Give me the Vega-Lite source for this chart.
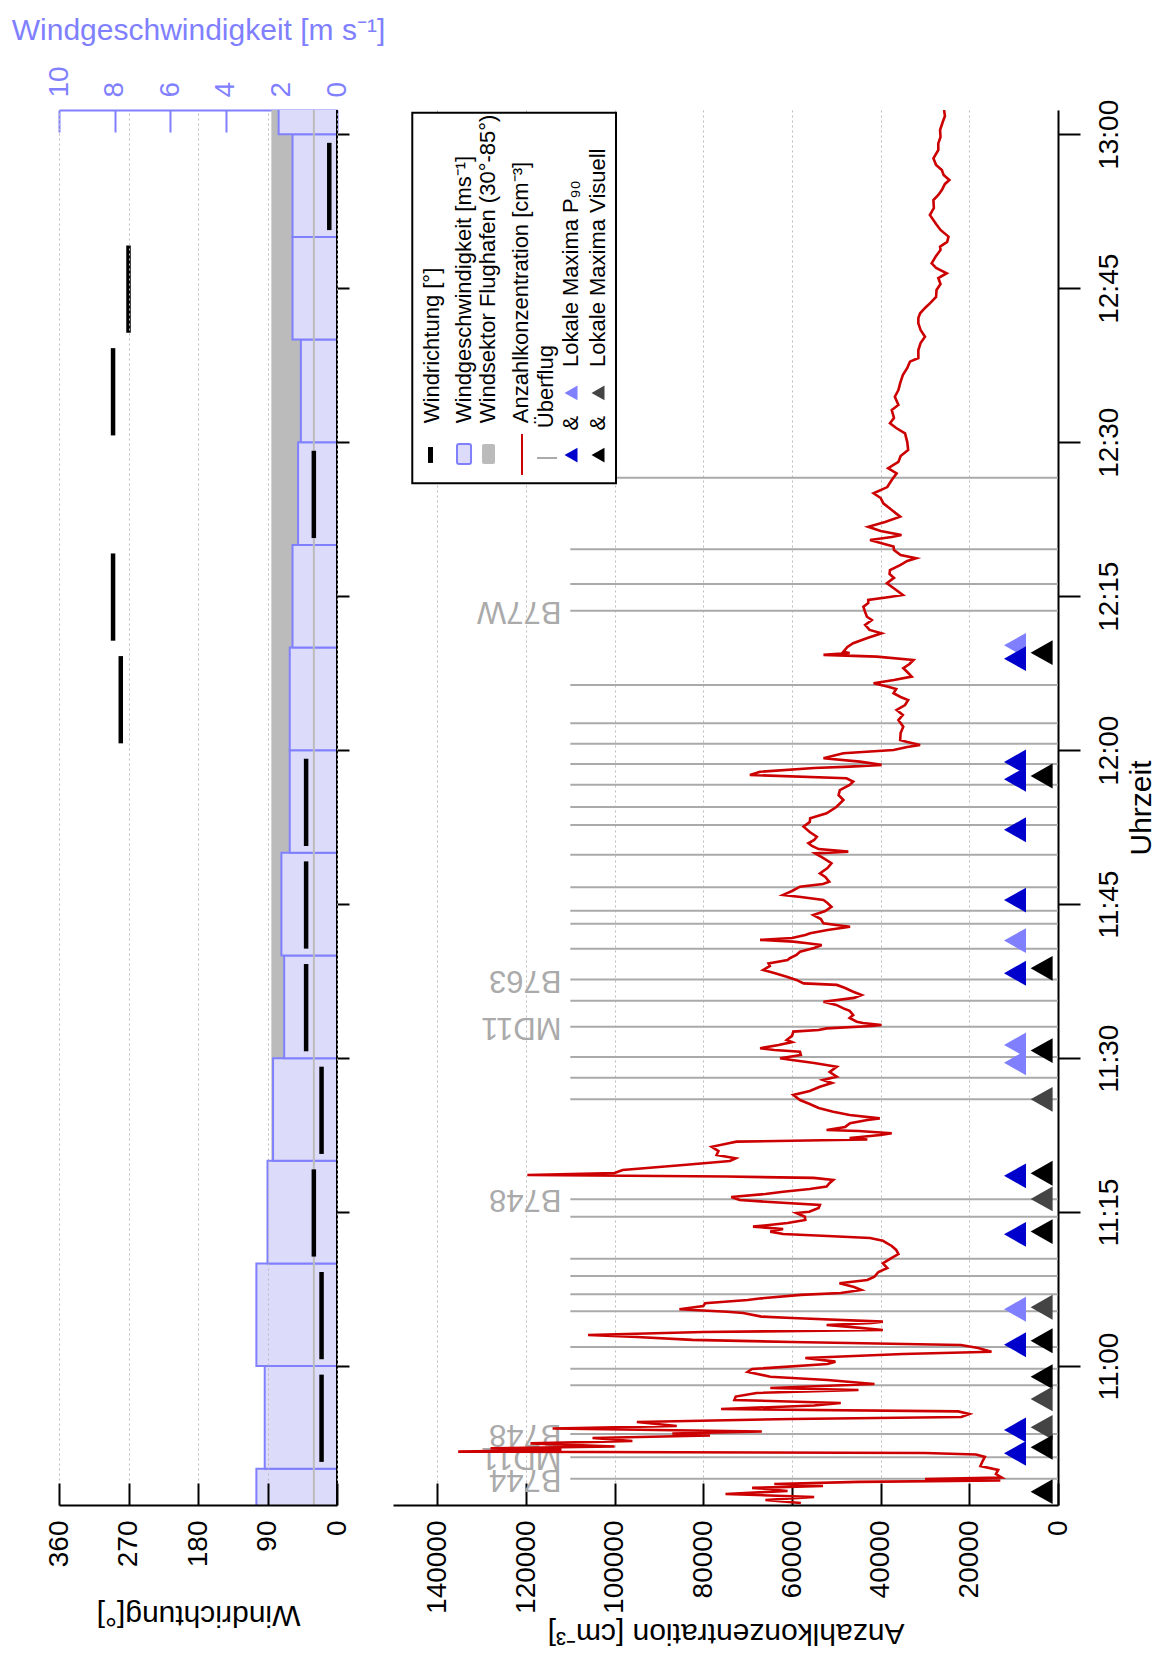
{
  "$schema": "https://vega.github.io/schema/vega-lite/v6.json",
  "width": 999,
  "height": 1395,
  "autosize": {"type": "none"},
  "padding": {"left": 59, "top": 110, "right": 98, "bottom": 159},
  "background": "white",
  "config": {
    "font": "Liberation Sans",
    "view": {"stroke": null},
    "axis": {
      "labelFont": "Liberation Sans", "titleFont": "Liberation Sans",
      "labelFlush": false, "labelOverlap": false,
      "titleFontWeight": "normal", "labelFontSize": 28, "titleFontSize": 30,
      "labelColor": "black", "titleColor": "black",
      "domainColor": "black", "tickColor": "black", "domainWidth": 2, "tickWidth": 2,
      "gridColor": "#bbbbbb", "gridDash": [2, 3], "gridWidth": 1, "grid": false
    },
    "text": {"font": "Liberation Sans"}
  },
  "datasets": {
    "wind": [
      {"t0": "10:40:00", "t1": "10:50:00", "v": 2.9},
      {"t0": "10:50:00", "t1": "11:00:00", "v": 2.6},
      {"t0": "11:00:00", "t1": "11:10:00", "v": 2.9},
      {"t0": "11:10:00", "t1": "11:20:00", "v": 2.5},
      {"t0": "11:20:00", "t1": "11:30:00", "v": 2.3},
      {"t0": "11:30:00", "t1": "11:40:00", "v": 1.9},
      {"t0": "11:40:00", "t1": "11:50:00", "v": 2.0},
      {"t0": "11:50:00", "t1": "12:00:00", "v": 1.7},
      {"t0": "12:00:00", "t1": "12:10:00", "v": 1.7},
      {"t0": "12:10:00", "t1": "12:20:00", "v": 1.6},
      {"t0": "12:20:00", "t1": "12:30:00", "v": 1.4},
      {"t0": "12:30:00", "t1": "12:40:00", "v": 1.3},
      {"t0": "12:40:00", "t1": "12:50:00", "v": 1.6},
      {"t0": "12:50:00", "t1": "13:00:00", "v": 1.6},
      {"t0": "13:00:00", "t1": "13:10:00", "v": 2.1}
    ],
    "direction": [
      {"t0": "10:50:40", "t1": "10:59:10", "d": 20},
      {"t0": "11:00:40", "t1": "11:09:10", "d": 20},
      {"t0": "11:10:40", "t1": "11:19:10", "d": 30},
      {"t0": "11:20:40", "t1": "11:29:10", "d": 20},
      {"t0": "11:30:40", "t1": "11:39:10", "d": 40},
      {"t0": "11:40:40", "t1": "11:49:10", "d": 40},
      {"t0": "11:50:40", "t1": "11:59:10", "d": 40},
      {"t0": "12:00:40", "t1": "12:09:10", "d": 280},
      {"t0": "12:10:40", "t1": "12:19:10", "d": 290},
      {"t0": "12:20:40", "t1": "12:29:10", "d": 30},
      {"t0": "12:30:40", "t1": "12:39:10", "d": 290},
      {"t0": "12:40:40", "t1": "12:49:10", "d": 270},
      {"t0": "12:50:40", "t1": "12:59:10", "d": 10}
    ],
    "flights": [
      {"t": "10:49:02", "ac": "B744"}, {"t": "10:51:07", "ac": "MD11"}, {"t": "10:53:23", "ac": "B748"},
      {"t": "10:58:08", "ac": ""}, {"t": "10:59:45", "ac": ""}, {"t": "11:01:52", "ac": ""}, {"t": "11:05:20", "ac": ""},
      {"t": "11:07:00", "ac": ""}, {"t": "11:08:47", "ac": ""}, {"t": "11:10:28", "ac": ""}, {"t": "11:14:33", "ac": ""},
      {"t": "11:16:15", "ac": "B748"}, {"t": "11:25:59", "ac": ""}, {"t": "11:28:06", "ac": ""}, {"t": "11:30:07", "ac": ""},
      {"t": "11:33:04", "ac": "MD11"}, {"t": "11:35:36", "ac": ""}, {"t": "11:37:39", "ac": "B763"}, {"t": "11:40:40", "ac": ""},
      {"t": "11:43:06", "ac": ""}, {"t": "11:44:22", "ac": ""}, {"t": "11:46:39", "ac": ""}, {"t": "11:49:49", "ac": ""},
      {"t": "11:52:43", "ac": ""}, {"t": "11:54:28", "ac": ""}, {"t": "11:56:38", "ac": ""}, {"t": "11:58:39", "ac": ""},
      {"t": "12:00:38", "ac": ""}, {"t": "12:02:37", "ac": ""}, {"t": "12:06:21", "ac": ""}, {"t": "12:13:35", "ac": "B77W"},
      {"t": "12:16:12", "ac": ""}, {"t": "12:19:34", "ac": ""}, {"t": "12:26:33", "ac": ""}
    ],
    "maxima": [
      {"t": "12:10:13", "method": "P90", "kind": "P90 B"},
      {"t": "12:08:55", "method": "P90", "kind": "P90 A"},
      {"t": "11:58:51", "method": "P90", "kind": "P90 A"},
      {"t": "11:57:10", "method": "P90", "kind": "P90 A"},
      {"t": "11:52:15", "method": "P90", "kind": "P90 A"},
      {"t": "11:45:24", "method": "P90", "kind": "P90 A"},
      {"t": "11:41:27", "method": "P90", "kind": "P90 B"},
      {"t": "11:38:16", "method": "P90", "kind": "P90 A"},
      {"t": "11:31:17", "method": "P90", "kind": "P90 B"},
      {"t": "11:29:33", "method": "P90", "kind": "P90 B"},
      {"t": "11:18:32", "method": "P90", "kind": "P90 A"},
      {"t": "11:12:50", "method": "P90", "kind": "P90 A"},
      {"t": "11:05:32", "method": "P90", "kind": "P90 B"},
      {"t": "11:02:05", "method": "P90", "kind": "P90 A"},
      {"t": "10:53:47", "method": "P90", "kind": "P90 A"},
      {"t": "10:51:30", "method": "P90", "kind": "P90 A"},
      {"t": "12:09:30", "method": "Visuell", "kind": "Visuell A"},
      {"t": "11:57:29", "method": "Visuell", "kind": "Visuell A"},
      {"t": "11:38:45", "method": "Visuell", "kind": "Visuell A"},
      {"t": "11:30:44", "method": "Visuell", "kind": "Visuell A"},
      {"t": "11:25:59", "method": "Visuell", "kind": "Visuell B"},
      {"t": "11:18:47", "method": "Visuell", "kind": "Visuell A"},
      {"t": "11:16:17", "method": "Visuell", "kind": "Visuell B"},
      {"t": "11:13:06", "method": "Visuell", "kind": "Visuell A"},
      {"t": "11:05:44", "method": "Visuell", "kind": "Visuell B"},
      {"t": "11:02:28", "method": "Visuell", "kind": "Visuell A"},
      {"t": "10:58:58", "method": "Visuell", "kind": "Visuell A"},
      {"t": "10:56:48", "method": "Visuell", "kind": "Visuell B"},
      {"t": "10:54:02", "method": "Visuell", "kind": "Visuell B"},
      {"t": "10:52:05", "method": "Visuell", "kind": "Visuell A"},
      {"t": "10:47:46", "method": "Visuell", "kind": "Visuell A"}
    ],
    "conc": [
      {"t":"10:46:40","c":58000},{"t":"10:46:57","c":66000},{"t":"10:47:15","c":55000},{"t":"10:47:32","c":75000},
      {"t":"10:47:50","c":61000},{"t":"10:48:08","c":69000},{"t":"10:48:19","c":53000},{"t":"10:48:31","c":64000},
      {"t":"10:48:43","c":45000},{"t":"10:48:51","c":13000},{"t":"10:49:00","c":30000},{"t":"10:49:09","c":12700},
      {"t":"10:49:29","c":14000},{"t":"10:49:53","c":13500},{"t":"10:50:16","c":17500},{"t":"10:50:45","c":17000},
      {"t":"10:51:09","c":16500},{"t":"10:51:23","c":18500},{"t":"10:51:32","c":30000},{"t":"10:51:40","c":135300},
      {"t":"10:51:50","c":112000},{"t":"10:52:00","c":128000},{"t":"10:52:10","c":100000},{"t":"10:52:28","c":119000},
      {"t":"10:52:42","c":96000},{"t":"10:53:00","c":105000},{"t":"10:53:14","c":78500},{"t":"10:53:26","c":87000},
      {"t":"10:53:38","c":66800},{"t":"10:53:55","c":114000},{"t":"10:54:10","c":86000},{"t":"10:54:33","c":95000},
      {"t":"10:54:51","c":60000},{"t":"10:55:02","c":21800},{"t":"10:55:20","c":20000},{"t":"10:55:35","c":22500},
      {"t":"10:55:49","c":76000},{"t":"10:56:10","c":55000},{"t":"10:56:24","c":49000},{"t":"10:56:42","c":73000},
      {"t":"10:57:02","c":72700},{"t":"10:57:23","c":68000},{"t":"10:57:40","c":45000},{"t":"10:57:52","c":64900},
      {"t":"10:58:15","c":41400},{"t":"10:58:39","c":52000},{"t":"10:58:58","c":64900},{"t":"10:59:26","c":70000},
      {"t":"10:59:43","c":69000},{"t":"11:00:12","c":52000},{"t":"11:00:26","c":50200},{"t":"11:00:47","c":57000},
      {"t":"11:01:11","c":35000},{"t":"11:01:24","c":15000},{"t":"11:01:46","c":18000},{"t":"11:02:03","c":21900},
      {"t":"11:02:21","c":60000},{"t":"11:02:33","c":82500},{"t":"11:02:50","c":95000},{"t":"11:03:02","c":106000},
      {"t":"11:03:19","c":80000},{"t":"11:03:31","c":39500},{"t":"11:03:49","c":47000},{"t":"11:04:00","c":52200},
      {"t":"11:04:12","c":42000},{"t":"11:04:20","c":39500},{"t":"11:04:41","c":60000},{"t":"11:04:49","c":66900},
      {"t":"11:05:10","c":71000},{"t":"11:05:18","c":74700},{"t":"11:05:32","c":85400},{"t":"11:05:51","c":80000},
      {"t":"11:06:07","c":79600},{"t":"11:06:26","c":70000},{"t":"11:06:36","c":66900},{"t":"11:06:56","c":58000},
      {"t":"11:07:07","c":49000},{"t":"11:07:25","c":44400},{"t":"11:07:42","c":46000},{"t":"11:08:04","c":49300},
      {"t":"11:08:23","c":43000},{"t":"11:08:43","c":41400},{"t":"11:09:10","c":40500},{"t":"11:09:33","c":38500},
      {"t":"11:10:01","c":39500},{"t":"11:10:32","c":37500},{"t":"11:10:55","c":36000},{"t":"11:11:19","c":36500},
      {"t":"11:11:42","c":37500},{"t":"11:12:05","c":39000},{"t":"11:12:13","c":39500},{"t":"11:12:29","c":42400},
      {"t":"11:12:40","c":52000},{"t":"11:12:52","c":62000},{"t":"11:13:06","c":64900},{"t":"11:13:21","c":62000},
      {"t":"11:13:35","c":68800},{"t":"11:13:56","c":61000},{"t":"11:14:14","c":57000},{"t":"11:14:33","c":57100},
      {"t":"11:14:55","c":59000},{"t":"11:15:02","c":56100},{"t":"11:15:24","c":54000},{"t":"11:15:42","c":53700},
      {"t":"11:15:59","c":65000},{"t":"11:16:11","c":71800},{"t":"11:16:28","c":73700},{"t":"11:16:46","c":66000},
      {"t":"11:16:59","c":62000},{"t":"11:17:15","c":56000},{"t":"11:17:29","c":52200},{"t":"11:17:50","c":51500},
      {"t":"11:18:08","c":50700},{"t":"11:18:20","c":55100},{"t":"11:18:28","c":74700},{"t":"11:18:37","c":119700},
      {"t":"11:18:49","c":100000},{"t":"11:19:06","c":98200},{"t":"11:19:24","c":90000},{"t":"11:19:35","c":84500},
      {"t":"11:19:59","c":74000},{"t":"11:20:15","c":72700},{"t":"11:20:34","c":77000},{"t":"11:20:57","c":76600},
      {"t":"11:21:22","c":78100},{"t":"11:21:44","c":74000},{"t":"11:21:52","c":72500},{"t":"11:22:04","c":43000},
      {"t":"11:22:13","c":47000},{"t":"11:22:31","c":40000},{"t":"11:22:41","c":37500},{"t":"11:22:54","c":45000},
      {"t":"11:23:00","c":52200},{"t":"11:23:18","c":48000},{"t":"11:23:39","c":46900},{"t":"11:23:58","c":43000},
      {"t":"11:24:08","c":40200},{"t":"11:24:28","c":47000},{"t":"11:24:47","c":50700},{"t":"11:25:09","c":54000},
      {"t":"11:25:32","c":56000},{"t":"11:25:55","c":58200},{"t":"11:26:25","c":59700},{"t":"11:26:48","c":56000},
      {"t":"11:27:13","c":53700},{"t":"11:27:35","c":51000},{"t":"11:27:52","c":53000},{"t":"11:28:12","c":49900},
      {"t":"11:28:39","c":51500},{"t":"11:29:10","c":49900},{"t":"11:29:32","c":55000},{"t":"11:29:49","c":60000},
      {"t":"11:29:59","c":62700},{"t":"11:30:18","c":58000},{"t":"11:30:38","c":58200},{"t":"11:30:48","c":64000},
      {"t":"11:30:58","c":67200},{"t":"11:31:17","c":63000},{"t":"11:31:34","c":60000},{"t":"11:31:46","c":61200},
      {"t":"11:32:10","c":60000},{"t":"11:32:35","c":59700},{"t":"11:32:44","c":54000},{"t":"11:32:54","c":52200},
      {"t":"11:33:08","c":42000},{"t":"11:33:14","c":39800},{"t":"11:33:25","c":44000},{"t":"11:33:33","c":45400},
      {"t":"11:33:55","c":47000},{"t":"11:34:12","c":46200},{"t":"11:34:36","c":47000},{"t":"11:34:51","c":48400},
      {"t":"11:35:11","c":50000},{"t":"11:35:30","c":52900},{"t":"11:35:52","c":46000},{"t":"11:36:09","c":44300},
      {"t":"11:36:28","c":46200},{"t":"11:36:50","c":48000},{"t":"11:37:08","c":49900},{"t":"11:37:17","c":57400},
      {"t":"11:37:37","c":59000},{"t":"11:37:56","c":61200},{"t":"11:38:18","c":64000},{"t":"11:38:35","c":66500},
      {"t":"11:38:59","c":65000},{"t":"11:39:14","c":65300},{"t":"11:39:34","c":61000},{"t":"11:39:44","c":60500},
      {"t":"11:40:03","c":59000},{"t":"11:40:22","c":58200},{"t":"11:40:44","c":55000},{"t":"11:41:01","c":53300},
      {"t":"11:41:13","c":57000},{"t":"11:41:21","c":59700},{"t":"11:41:31","c":67200},{"t":"11:41:42","c":60000},
      {"t":"11:42:00","c":57000},{"t":"11:42:10","c":55900},{"t":"11:42:29","c":52000},{"t":"11:42:48","c":46900},
      {"t":"11:42:58","c":50000},{"t":"11:43:08","c":52900},{"t":"11:43:33","c":53500},{"t":"11:43:57","c":55200},
      {"t":"11:44:20","c":52500},{"t":"11:44:45","c":51100},{"t":"11:45:07","c":52000},{"t":"11:45:24","c":52900},
      {"t":"11:45:42","c":58000},{"t":"11:45:54","c":62000},{"t":"11:46:17","c":60000},{"t":"11:46:42","c":58200},
      {"t":"11:46:58","c":53000},{"t":"11:47:11","c":51600},{"t":"11:47:39","c":52500},{"t":"11:48:00","c":53700},
      {"t":"11:48:31","c":52000},{"t":"11:48:59","c":51100},{"t":"11:49:30","c":53000},{"t":"11:49:57","c":54800},
      {"t":"11:50:07","c":47300},{"t":"11:50:22","c":54000},{"t":"11:50:40","c":55500},{"t":"11:50:56","c":56300},
      {"t":"11:51:15","c":55000},{"t":"11:51:34","c":54400},{"t":"11:52:02","c":56000},{"t":"11:52:33","c":57400},
      {"t":"11:53:00","c":56000},{"t":"11:53:22","c":55900},{"t":"11:53:51","c":52200},{"t":"11:54:28","c":50000},
      {"t":"11:55:09","c":48400},{"t":"11:55:38","c":49500},{"t":"11:56:07","c":49200},{"t":"11:56:37","c":47000},
      {"t":"11:56:56","c":46200},{"t":"11:57:16","c":47700},{"t":"11:57:35","c":69500},{"t":"11:57:54","c":67200},
      {"t":"11:58:16","c":55000},{"t":"11:58:24","c":46900},{"t":"11:58:34","c":39800},{"t":"11:58:53","c":44700},
      {"t":"11:59:13","c":52900},{"t":"11:59:32","c":50000},{"t":"11:59:42","c":48400},{"t":"12:00:01","c":37100},
      {"t":"12:00:19","c":34000},{"t":"12:00:30","c":31100},{"t":"12:00:48","c":34000},{"t":"12:01:00","c":35600},
      {"t":"12:01:40","c":35500},{"t":"12:02:17","c":34900},{"t":"12:02:56","c":36000},{"t":"12:03:26","c":35000},
      {"t":"12:03:55","c":36400},{"t":"12:04:24","c":34500},{"t":"12:04:53","c":33800},{"t":"12:05:11","c":35500},
      {"t":"12:05:33","c":37100},{"t":"12:05:58","c":36500},{"t":"12:06:11","c":38300},{"t":"12:06:31","c":41600},
      {"t":"12:06:50","c":37000},{"t":"12:07:10","c":33000},{"t":"12:07:37","c":34000},{"t":"12:07:59","c":34900},
      {"t":"12:08:24","c":33500},{"t":"12:08:47","c":32600},{"t":"12:09:07","c":40900},{"t":"12:09:17","c":52900},
      {"t":"12:09:28","c":47000},{"t":"12:09:36","c":48400},{"t":"12:10:03","c":47500},{"t":"12:10:25","c":46200},
      {"t":"12:10:56","c":43000},{"t":"12:11:23","c":39800},{"t":"12:11:43","c":42500},{"t":"12:12:12","c":43500},
      {"t":"12:12:41","c":42000},{"t":"12:13:00","c":43100},{"t":"12:13:28","c":43500},{"t":"12:13:59","c":43900},
      {"t":"12:14:20","c":42800},{"t":"12:14:38","c":42800},{"t":"12:14:55","c":38000},{"t":"12:15:07","c":35000},
      {"t":"12:15:36","c":36500},{"t":"12:16:16","c":38600},{"t":"12:16:47","c":37000},{"t":"12:17:10","c":38000},
      {"t":"12:17:33","c":37900},{"t":"12:18:03","c":35500},{"t":"12:18:26","c":34000},{"t":"12:18:42","c":32000},
      {"t":"12:19:01","c":35500},{"t":"12:19:30","c":37000},{"t":"12:19:50","c":37100},{"t":"12:20:11","c":40000},
      {"t":"12:20:29","c":42400},{"t":"12:20:46","c":37500},{"t":"12:20:58","c":35300},{"t":"12:21:21","c":40000},
      {"t":"12:21:46","c":42800},{"t":"12:22:14","c":39000},{"t":"12:22:45","c":35600},{"t":"12:23:24","c":37500},
      {"t":"12:24:03","c":39400},{"t":"12:24:34","c":40000},{"t":"12:25:02","c":41600},{"t":"12:25:38","c":38500},
      {"t":"12:26:19","c":37500},{"t":"12:26:58","c":36400},{"t":"12:27:28","c":38300},{"t":"12:28:05","c":36000},
      {"t":"12:28:40","c":35500},{"t":"12:29:15","c":33800},{"t":"12:30:01","c":34000},{"t":"12:30:52","c":34500},
      {"t":"12:31:23","c":36500},{"t":"12:31:51","c":37900},{"t":"12:32:22","c":37000},{"t":"12:33:08","c":37500},
      {"t":"12:33:38","c":36000},{"t":"12:34:26","c":36800},{"t":"12:35:05","c":36000},{"t":"12:35:45","c":35600},
      {"t":"12:36:33","c":35000},{"t":"12:37:14","c":34000},{"t":"12:37:51","c":33400},{"t":"12:38:12","c":31500},
      {"t":"12:38:59","c":31500},{"t":"12:39:40","c":31000},{"t":"12:40:17","c":30000},{"t":"12:40:56","c":31000},
      {"t":"12:41:35","c":31500},{"t":"12:42:06","c":31500},{"t":"12:42:34","c":31100},{"t":"12:43:05","c":30000},
      {"t":"12:43:32","c":28900},{"t":"12:44:09","c":27500},{"t":"12:44:50","c":27400},{"t":"12:45:25","c":26500},
      {"t":"12:46:00","c":27000},{"t":"12:46:28","c":25100},{"t":"12:46:59","c":27500},{"t":"12:47:26","c":28500},
      {"t":"12:48:09","c":27500},{"t":"12:48:44","c":26500},{"t":"12:49:03","c":26600},{"t":"12:49:31","c":25000},
      {"t":"12:50:02","c":24700},{"t":"12:50:41","c":26500},{"t":"12:51:16","c":27500},{"t":"12:52:08","c":28900},
      {"t":"12:52:49","c":28000},{"t":"12:53:36","c":28100},{"t":"12:54:05","c":27000},{"t":"12:54:34","c":26200},
      {"t":"12:55:10","c":25500},{"t":"12:55:33","c":24500},{"t":"12:56:02","c":25800},{"t":"12:56:31","c":26200},
      {"t":"12:57:01","c":27500},{"t":"12:57:40","c":28100},{"t":"12:58:28","c":27000},{"t":"12:59:07","c":27000},
      {"t":"12:59:44","c":26500},{"t":"13:00:25","c":26600},{"t":"13:01:12","c":26000},{"t":"13:01:47","c":25500},
      {"t":"13:02:22","c":25700}
    ]
  },
  "resolve": {"scale": {"x": "independent"}, "axis": {"x": "independent", "y": "independent"}},
  "layer": [
    {
      "data": {"values": [{}]},
      "mark": {"type": "rect", "fill": "#bbbbbb"},
      "encoding": {
        "x": {
          "datum": 85, "type": "quantitative",
          "scale": {"domain": [0, 360], "range": [278, 0], "nice": false, "zero": false},
          "axis": {
            "orient": "bottom", "values": [0, 90, 180, 270, 360], "tickSize": -22,
            "labelAngle": 270, "labelAlign": "right", "labelBaseline": "middle", "labelPadding": 37,
            "title": "Windrichtung[°]", "titleAngle": 180, "titleAlign": "center", "titleBaseline": "bottom",
            "titlePadding": 33, "grid": true, "zindex": 1
          }
        },
        "x2": {"datum": 30}
      }
    },
    {
      "data": {"name": "wind", "format": {"parse": {"t0": "date:'%H:%M:%S'", "t1": "date:'%H:%M:%S'"}}},
      "mark": {"type": "rect", "fill": "#dcdcfa", "stroke": "#8080ff", "strokeWidth": 2, "clip": true},
      "encoding": {
        "y": {
          "field": "t0", "type": "temporal",
          "scale": {"type": "time", "nice": false, "domain": [{"year": 1900, "month": 1, "date": 1, "hours": 10, "minutes": 46, "seconds": 28}, {"year": 1900, "month": 1, "date": 1, "hours": 13, "minutes": 2, "seconds": 22}]},
          "axis": {
            "orient": "right", "offset": -732, "tickSize": 23, "domain": false, "labels": false, "title": "",
            "values": [
              {"year": 1900, "month": 1, "date": 1, "hours": 11, "minutes": 0},
              {"year": 1900, "month": 1, "date": 1, "hours": 11, "minutes": 15},
              {"year": 1900, "month": 1, "date": 1, "hours": 11, "minutes": 30},
              {"year": 1900, "month": 1, "date": 1, "hours": 11, "minutes": 45},
              {"year": 1900, "month": 1, "date": 1, "hours": 12, "minutes": 0},
              {"year": 1900, "month": 1, "date": 1, "hours": 12, "minutes": 15},
              {"year": 1900, "month": 1, "date": 1, "hours": 12, "minutes": 30},
              {"year": 1900, "month": 1, "date": 1, "hours": 12, "minutes": 45},
              {"year": 1900, "month": 1, "date": 1, "hours": 13, "minutes": 0}
            ]
          }
        },
        "y2": {"field": "t1"},
        "x": {
          "field": "v", "type": "quantitative",
          "scale": {"domain": [0, 10], "range": [278, 0], "nice": false, "zero": false},
          "axis": {
            "orient": "top", "values": [0, 2, 4, 6, 8, 10], "tickSize": -22,
            "tickColor": "#8080ff", "domainColor": "#8080ff", "labelColor": "#8080ff",
            "labelAngle": 270, "labelAlign": "left", "labelBaseline": "middle", "labelPadding": 35,
            "title": "Windgeschwindigkeit [m s⁻¹]", "titleColor": "#8080ff", "titlePadding": 20
          }
        },
        "x2": {"datum": 0}
      }
    },
    {
      "layer": [
        {
          "data": {"values": [{}]},
          "mark": {"type": "rule", "color": "#bbbbbb", "strokeWidth": 2},
          "encoding": {
            "x": {"datum": 30, "type": "quantitative", "scale": {"domain": [0, 360], "range": [278, 0], "nice": false, "zero": false}, "axis": null}
          }
        },
        {
          "data": {"name": "direction", "format": {"parse": {"t0": "date:'%H:%M:%S'", "t1": "date:'%H:%M:%S'"}}},
          "mark": {"type": "rule", "color": "black", "strokeWidth": 4.5, "strokeCap": "butt"},
          "encoding": {
            "x": {"field": "d", "type": "quantitative", "scale": {"domain": [0, 360], "range": [278, 0], "nice": false, "zero": false}, "axis": null},
            "y": {"field": "t0", "type": "temporal", "scale": {"type": "time", "nice": false, "domain": [{"year": 1900, "month": 1, "date": 1, "hours": 10, "minutes": 46, "seconds": 28}, {"year": 1900, "month": 1, "date": 1, "hours": 13, "minutes": 2, "seconds": 22}]}, "axis": null},
            "y2": {"field": "t1"}
          }
        },
        {
          "data": {"values": [{}]},
          "mark": {"type": "rule", "color": "black", "strokeWidth": 2},
          "encoding": {
            "x": {"datum": 0, "type": "quantitative", "scale": {"domain": [0, 360], "range": [278, 0], "nice": false, "zero": false}, "axis": null}
          }
        }
      ]
    },
    {
      "layer": [
        {
          "data": {"name": "flights", "format": {"parse": {"t": "date:'%H:%M:%S'"}}},
          "layer": [
            {
              "mark": {"type": "rule", "color": "#aaaaaa", "strokeWidth": 2},
              "encoding": {
                "y": {
                  "field": "t", "type": "temporal",
                  "scale": {"type": "time", "nice": false, "domain": [{"year": 1900, "month": 1, "date": 1, "hours": 10, "minutes": 46, "seconds": 28}, {"year": 1900, "month": 1, "date": 1, "hours": 13, "minutes": 2, "seconds": 22}]},
                  "axis": {
                    "orient": "right", "format": "%H:%M", "tickSize": 22,
                    "labelAngle": 270, "labelAlign": "center", "labelBaseline": "top", "labelPadding": 15,
                    "title": "Uhrzeit", "titleAngle": 270, "titleAlign": "center", "titleBaseline": "top", "titlePadding": 3,
                    "values": [
                      {"year": 1900, "month": 1, "date": 1, "hours": 11, "minutes": 0},
                      {"year": 1900, "month": 1, "date": 1, "hours": 11, "minutes": 15},
                      {"year": 1900, "month": 1, "date": 1, "hours": 11, "minutes": 30},
                      {"year": 1900, "month": 1, "date": 1, "hours": 11, "minutes": 45},
                      {"year": 1900, "month": 1, "date": 1, "hours": 12, "minutes": 0},
                      {"year": 1900, "month": 1, "date": 1, "hours": 12, "minutes": 15},
                      {"year": 1900, "month": 1, "date": 1, "hours": 12, "minutes": 30},
                      {"year": 1900, "month": 1, "date": 1, "hours": 12, "minutes": 45},
                      {"year": 1900, "month": 1, "date": 1, "hours": 13, "minutes": 0}
                    ]
                  }
                },
                "x": {
                  "datum": 0, "type": "quantitative",
                  "scale": {"domain": [0, 150000], "range": [999, 334], "nice": false, "zero": false},
                  "axis": {
                    "orient": "bottom", "values": [0, 20000, 40000, 60000, 80000, 100000, 120000, 140000], "format": "d",
                    "tickSize": -22, "labelAngle": 270, "labelAlign": "right", "labelBaseline": "middle", "labelPadding": 37,
                    "title": "Anzahlkonzentration [cm⁻³]", "titleAngle": 180, "titleAlign": "center", "titleBaseline": "bottom",
                    "titlePadding": 4, "grid": true
                  }
                },
                "x2": {"datum": 110000}
              }
            },
            {
              "transform": [{"filter": "datum.ac != ''"}],
              "mark": {"type": "text", "angle": 180, "align": "left", "baseline": "middle", "fontSize": 31, "color": "#aaaaaa"},
              "encoding": {
                "y": {"field": "t", "type": "temporal"},
                "x": {"datum": 112000, "type": "quantitative"},
                "text": {"field": "ac"}
              }
            }
          ]
        },
        {
          "data": {"name": "conc", "format": {"parse": {"t": "date:'%H:%M:%S'"}}},
          "mark": {"type": "line", "color": "#cc0000", "strokeWidth": 2.6, "strokeJoin": "miter", "clip": true},
          "encoding": {
            "y": {"field": "t", "type": "temporal"},
            "x": {"field": "c", "type": "quantitative"},
            "order": {"field": "t", "type": "temporal"}
          }
        },
        {
          "data": {"name": "maxima", "format": {"parse": {"t": "date:'%H:%M:%S'"}}},
          "encoding": {
            "y": {"field": "t", "type": "temporal"},
            "color": {"field": "kind", "type": "nominal", "legend": null,
              "scale": {"domain": ["P90 A", "P90 B", "Visuell A", "Visuell B"], "range": ["#0000cc", "#8080ff", "#000000", "#444444"]}}
          },
          "layer": [
            {
              "transform": [{"filter": "datum.method === 'P90'"}],
              "mark": {"type": "point", "shape": "M1,-1.13L-1,0L1,1.13Z", "size": 484, "filled": true, "opacity": 1, "strokeWidth": 0},
              "encoding": {"x": {"datum": 9700, "type": "quantitative"}}
            },
            {
              "transform": [{"filter": "datum.method === 'Visuell'"}],
              "mark": {"type": "point", "shape": "M1,-1.13L-1,0L1,1.13Z", "size": 484, "filled": true, "opacity": 1, "strokeWidth": 0},
              "encoding": {"x": {"datum": 3700, "type": "quantitative"}}
            }
          ]
        },
        {
          "data": {"values": [{}]},
          "mark": {"type": "rect", "fill": "white", "stroke": "black", "strokeWidth": 2},
          "encoding": {
            "x": {"datum": 145650, "type": "quantitative"},
            "x2": {"datum": 99700},
            "y": {"datum": {"year": 1900, "month": 1, "date": 1, "hours": 13, "minutes": 2, "seconds": 6}, "type": "temporal"},
            "y2": {"datum": {"year": 1900, "month": 1, "date": 1, "hours": 12, "minutes": 26, "seconds": 0}}
          }
        },
        {
          "data": {"values": [{}]},
          "mark": {"type": "rule", "color": "black", "strokeWidth": 5},
          "encoding": {
            "x": {"datum": 141540, "type": "quantitative"},
            "y": {"datum": {"year": 1900, "month": 1, "date": 1, "hours": 12, "minutes": 29, "seconds": 32}, "type": "temporal"},
            "y2": {"datum": {"year": 1900, "month": 1, "date": 1, "hours": 12, "minutes": 27, "seconds": 59}}
          }
        },
        {
          "data": {"values": [{}]},
          "mark": {"type": "rect", "fill": "#dcdcfa", "stroke": "#8080ff", "strokeWidth": 2, "cornerRadius": 2},
          "encoding": {
            "x": {"datum": 135560, "type": "quantitative"},
            "x2": {"datum": 132400},
            "y": {"datum": {"year": 1900, "month": 1, "date": 1, "hours": 12, "minutes": 29, "seconds": 50}, "type": "temporal"},
            "y2": {"datum": {"year": 1900, "month": 1, "date": 1, "hours": 12, "minutes": 27, "seconds": 53}}
          }
        },
        {
          "data": {"values": [{}]},
          "mark": {"type": "rect", "fill": "#bbbbbb", "cornerRadius": 2},
          "encoding": {
            "x": {"datum": 129920, "type": "quantitative"},
            "x2": {"datum": 126990},
            "y": {"datum": {"year": 1900, "month": 1, "date": 1, "hours": 12, "minutes": 29, "seconds": 50}, "type": "temporal"},
            "y2": {"datum": {"year": 1900, "month": 1, "date": 1, "hours": 12, "minutes": 27, "seconds": 53}}
          }
        },
        {
          "data": {"values": [{}]},
          "mark": {"type": "rule", "color": "#cc0000", "strokeWidth": 2},
          "encoding": {
            "x": {"datum": 120900, "type": "quantitative"},
            "y": {"datum": {"year": 1900, "month": 1, "date": 1, "hours": 12, "minutes": 30, "seconds": 48}, "type": "temporal"},
            "y2": {"datum": {"year": 1900, "month": 1, "date": 1, "hours": 12, "minutes": 26, "seconds": 49}}
          }
        },
        {
          "data": {"values": [{}]},
          "mark": {"type": "rule", "color": "#aaaaaa", "strokeWidth": 2},
          "encoding": {
            "x": {"datum": 117520, "type": "quantitative"},
            "x2": {"datum": 113000},
            "y": {"datum": {"year": 1900, "month": 1, "date": 1, "hours": 12, "minutes": 28, "seconds": 28}, "type": "temporal"}
          }
        },
        {
          "data": {"values": [{}]},
          "mark": {"type": "point", "shape": "M1,-1.13L-1,0L1,1.13Z", "size": 169, "filled": true, "opacity": 1, "strokeWidth": 0, "color": "#0000cc"},
          "encoding": {
            "x": {"datum": 109850, "type": "quantitative"},
            "y": {"datum": {"year": 1900, "month": 1, "date": 1, "hours": 12, "minutes": 28, "seconds": 45}, "type": "temporal"}
          }
        },
        {
          "data": {"values": [{}]},
          "mark": {"type": "point", "shape": "M1,-1.13L-1,0L1,1.13Z", "size": 169, "filled": true, "opacity": 1, "strokeWidth": 0, "color": "#8080ff"},
          "encoding": {
            "x": {"datum": 109850, "type": "quantitative"},
            "y": {"datum": {"year": 1900, "month": 1, "date": 1, "hours": 12, "minutes": 34, "seconds": 48}, "type": "temporal"}
          }
        },
        {
          "data": {"values": [{}]},
          "mark": {"type": "point", "shape": "M1,-1.13L-1,0L1,1.13Z", "size": 169, "filled": true, "opacity": 1, "strokeWidth": 0, "color": "#000000"},
          "encoding": {
            "x": {"datum": 103760, "type": "quantitative"},
            "y": {"datum": {"year": 1900, "month": 1, "date": 1, "hours": 12, "minutes": 28, "seconds": 45}, "type": "temporal"}
          }
        },
        {
          "data": {"values": [{}]},
          "mark": {"type": "point", "shape": "M1,-1.13L-1,0L1,1.13Z", "size": 169, "filled": true, "opacity": 1, "strokeWidth": 0, "color": "#444444"},
          "encoding": {
            "x": {"datum": 103760, "type": "quantitative"},
            "y": {"datum": {"year": 1900, "month": 1, "date": 1, "hours": 12, "minutes": 34, "seconds": 48}, "type": "temporal"}
          }
        },
        {
          "data": {"values": [{}]},
          "mark": {"type": "text", "text": "Windrichtung [°]", "angle": 270, "align": "left", "baseline": "middle", "fontSize": 22},
          "encoding": {
            "x": {"datum": 141200, "type": "quantitative"},
            "y": {"datum": {"year": 1900, "month": 1, "date": 1, "hours": 12, "minutes": 31, "seconds": 51}, "type": "temporal"}
          }
        },
        {
          "data": {"values": [{}]},
          "mark": {"type": "text", "text": "Windgeschwindigkeit [ms⁻¹]", "angle": 270, "align": "left", "baseline": "middle", "fontSize": 22},
          "encoding": {
            "x": {"datum": 133980, "type": "quantitative"},
            "y": {"datum": {"year": 1900, "month": 1, "date": 1, "hours": 12, "minutes": 31, "seconds": 51}, "type": "temporal"}
          }
        },
        {
          "data": {"values": [{}]},
          "mark": {"type": "text", "text": "Windsektor Flughafen (30°-85°)", "angle": 270, "align": "left", "baseline": "middle", "fontSize": 22},
          "encoding": {
            "x": {"datum": 128570, "type": "quantitative"},
            "y": {"datum": {"year": 1900, "month": 1, "date": 1, "hours": 12, "minutes": 31, "seconds": 51}, "type": "temporal"}
          }
        },
        {
          "data": {"values": [{}]},
          "mark": {"type": "text", "text": "Anzahlkonzentration [cm⁻³]", "angle": 270, "align": "left", "baseline": "middle", "fontSize": 22},
          "encoding": {
            "x": {"datum": 121130, "type": "quantitative"},
            "y": {"datum": {"year": 1900, "month": 1, "date": 1, "hours": 12, "minutes": 31, "seconds": 51}, "type": "temporal"}
          }
        },
        {
          "data": {"values": [{}]},
          "mark": {"type": "text", "text": "Überflug", "angle": 270, "align": "left", "baseline": "middle", "fontSize": 22},
          "encoding": {
            "x": {"datum": 115490, "type": "quantitative"},
            "y": {"datum": {"year": 1900, "month": 1, "date": 1, "hours": 12, "minutes": 31, "seconds": 22}, "type": "temporal"}
          }
        },
        {
          "data": {"values": [{}]},
          "mark": {"type": "text", "text": "&", "angle": 270, "align": "center", "baseline": "middle", "fontSize": 22},
          "encoding": {
            "x": {"datum": 109850, "type": "quantitative"},
            "y": {"datum": {"year": 1900, "month": 1, "date": 1, "hours": 12, "minutes": 31, "seconds": 51}, "type": "temporal"}
          }
        },
        {
          "data": {"values": [{}]},
          "mark": {"type": "text", "text": "&", "angle": 270, "align": "center", "baseline": "middle", "fontSize": 22},
          "encoding": {
            "x": {"datum": 103760, "type": "quantitative"},
            "y": {"datum": {"year": 1900, "month": 1, "date": 1, "hours": 12, "minutes": 31, "seconds": 51}, "type": "temporal"}
          }
        },
        {
          "data": {"values": [{}]},
          "mark": {"type": "text", "text": "Lokale Maxima P₉₀", "angle": 270, "align": "left", "baseline": "middle", "fontSize": 22},
          "encoding": {
            "x": {"datum": 109850, "type": "quantitative"},
            "y": {"datum": {"year": 1900, "month": 1, "date": 1, "hours": 12, "minutes": 37, "seconds": 20}, "type": "temporal"}
          }
        },
        {
          "data": {"values": [{}]},
          "mark": {"type": "text", "text": "Lokale Maxima Visuell", "angle": 270, "align": "left", "baseline": "middle", "fontSize": 22},
          "encoding": {
            "x": {"datum": 103760, "type": "quantitative"},
            "y": {"datum": {"year": 1900, "month": 1, "date": 1, "hours": 12, "minutes": 37, "seconds": 20}, "type": "temporal"}
          }
        }
      ]
    }
  ]
}
